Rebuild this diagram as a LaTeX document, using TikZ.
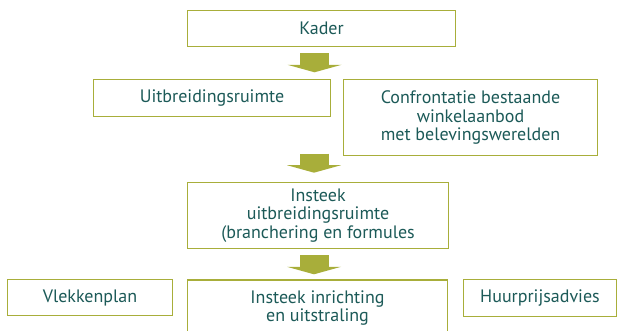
\documentclass[tikz,border=0pt]{standalone}
\usepackage{fontspec}
\setmainfont{PT Sans}
\usepackage{tikz}
\usetikzlibrary{arrows.meta,shadows}

\definecolor{boxgreen}{RGB}{168,174,58}
\definecolor{boxtext}{RGB}{28,90,88}

\begin{document}
\begin{tikzpicture}[x=1pt, y=-1pt,
	every node/.style={draw=boxgreen, line width=1.6pt, fill=white, text=boxtext,
		align=center, inner sep=0pt, font=\fontsize{18}{18.5}\selectfont,
		drop shadow={shadow xshift=0.9pt, shadow yshift=-0.9pt, fill=boxgreen, opacity=1}}]
	\tikzset{blockarrow/.style={draw=boxgreen, line width=29pt,
		-{Triangle[width=54pt, length=7.5pt, line width=0pt]}}}
	\useasboundingbox (0,0) rectangle (618,330);
	\node[minimum width=268pt, minimum height=36pt] (kader)   at (321.5,28.5) {Kader};
	\node[minimum width=237pt, minimum height=37pt] (uitbr)   at (212,98)     {Uitbreidingsruimte};
	\node[minimum width=254pt, minimum height=76pt] (confr)   at (470.5,117.5) {Confrontatie bestaande\\winkelaanbod\\met belevingswerelden};
	\node[minimum width=261pt, minimum height=66pt] (insteek) at (318,215.5)  {Insteek\\uitbreidingsruimte\\(branchering en formules};
	\node[minimum width=165pt, minimum height=36pt] (vlek)    at (90,297.5)   {Vlekkenplan};
	\node[minimum width=260pt, minimum height=56pt] (inricht) at (317.5,308)  {Insteek inrichting\\en uitstraling};
	\node[minimum width=153pt, minimum height=37pt] (huur)    at (540,298)    {Huurprijsadvies};
	\foreach \anc/\dx/\dy in {
		kader.south/-7/-6,
		insteek.north/-4/28,
		insteek.south/-4/-6}
	\draw[blockarrow] ([xshift=\dx pt, yshift=\dy pt]\anc) -- ++(0,19);
\end{tikzpicture}
\end{document}
